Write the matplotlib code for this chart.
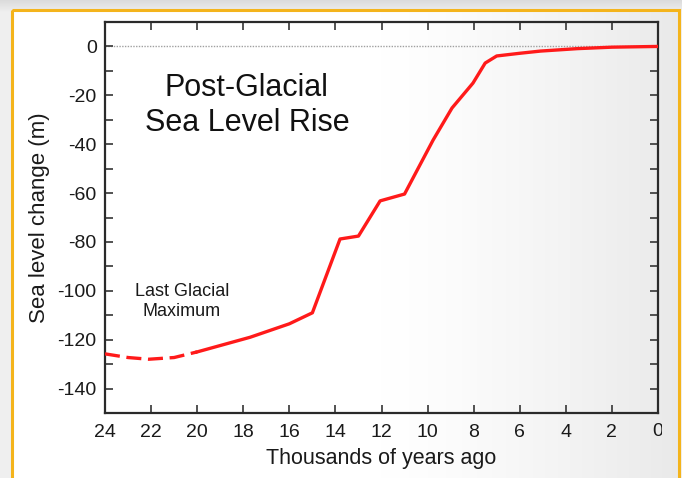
import numpy as np
import matplotlib
matplotlib.use("Agg")
import matplotlib.pyplot as plt
from matplotlib.patches import Rectangle
from matplotlib.transforms import Bbox
from matplotlib.ticker import MultipleLocator

# ---- data (thousands of years ago, sea level change in m) ----
lgm_age = [24, 23, 22.1, 21, 20]
lgm_level = [-125.8, -127.3, -128, -127.3, -125]
rise_age = [20, 17.7, 16, 15, 13.8, 13.0, 12.06, 11.0, 9.76, 8.94, 8.03, 7.5, 7.0, 6.0, 5.1, 3.5, 2, 0]
rise_level = [-125, -119, -113.5, -109, -78.8, -77.6, -63.2, -60.4, -38.3, -25.2, -15, -6.8, -3.9, -2.8, -1.9, -0.9, -0.3, 0]
x_ticks = [24, 22, 20, 18, 16, 14, 12, 10, 8, 6, 4, 2, 0]
x_tick_labels = ["24", "22", "20", "18", "16", "14", "12", "10", "8", "6", "4", "2", ""]
y_ticks = [0, -20, -40, -60, -80, -100, -120, -140]
y_tick_labels = ["0", "-20", "-40", "-60", "-80", "-100", "-120", "-140"]

W, H = 682, 478
fig = plt.figure(figsize=(W / 100, H / 100), dpi=100)
fig.patch.set_facecolor("#efefef")

# ---- background (shadow + frame gradient) ----
bg = fig.add_axes([0, 0, 1, 1], zorder=-10)
bg.set_axis_off()
xs = np.arange(W)
ys = np.arange(H)
top = np.clip(ys / 12.0, 0, 1)
img = np.empty((H, W))
img[:, :] = (0.86 + 0.08 * top)[:, None]
fx0, fx1, fy0 = 12, 679, 10
gx = np.clip((xs - 380) / (fx1 - 380), 0, 1)
grad = 1.0 - 0.085 * gx ** 1.3
inner = np.zeros((H, W), dtype=bool)
inner[fy0:, fx0:fx1] = True
img[inner] = np.broadcast_to(grad[None, :], (H, W))[inner]
bg.imshow(np.dstack([img, img, img]), extent=[0, W, H, 0], aspect="auto", interpolation="bilinear")
bg.set_xlim(0, W)
bg.set_ylim(H, 0)
bg.add_patch(Rectangle((fx0, fy0), fx1 - fx0, H, fill=False, edgecolor="#f4b41c", linewidth=2.2))

# ---- main axes ----
ax = fig.add_axes([105 / W, 1 - 413 / H, (658 - 105) / W, (413 - 22) / H])
ax.set_facecolor("none")
ax.set_xlim(24, 0)
ax.set_ylim(-150, 10)

ax.axhline(0, color="#a0a0a0", linestyle=(0, (1, 1)), linewidth=1.0, zorder=1)
ax.plot(lgm_age, lgm_level, color="#ff1a1a", linewidth=2.4, linestyle=(0, (4.5, 2)), zorder=3)
ax.plot(rise_age, rise_level, color="#ff1a1a", linewidth=2.4, zorder=3, solid_joinstyle="round")

ax.set_xticks(x_ticks, x_tick_labels)
ax.set_yticks(y_ticks, y_tick_labels)
ax.yaxis.set_minor_locator(MultipleLocator(10))
tick_font = "Liberation Sans"
for lbl in ax.get_xticklabels() + ax.get_yticklabels():
    lbl.set_fontfamily(tick_font)
    lbl.set_fontsize(14)
    lbl.set_color("#1a1a1a")
ax.tick_params(which="both", direction="in", top=True, right=True, length=6, width=1.3, color="#444444")
ax.tick_params(axis="x", pad=8)
ax.tick_params(axis="y", pad=6)
for s in ax.spines.values():
    s.set_linewidth(1.6)
    s.set_color("#2a2a2a")

# clipped "0" label at right end
t0 = ax.text(0, -0.026, "0", transform=ax.get_xaxis_transform(), ha="center", va="top",
             fontsize=14, family=tick_font, color="#1a1a1a")
t0.set_clip_box(Bbox.from_extents(0, 0, 662, H))
t0.set_clip_on(True)

ax.set_xlabel("Thousands of years ago", fontsize=15.5, family="Liberation Sans",
              color="#1a1a1a", labelpad=5)
ax.set_ylabel("Sea level change (m)", fontsize=16, family="Liberation Sans", color="#1a1a1a", labelpad=5)

ax.text(17.84, -24.2, "Post-Glacial\nSea Level Rise", ha="center", va="center", fontsize=22,
        family="Liberation Sans", color="#111111", linespacing=1.2)
ax.text(20.66, -104.4, "Last Glacial\nMaximum", ha="center", va="center", fontsize=13,
        family="Liberation Sans", color="#1a1a1a", linespacing=1.2)

fig.savefig("out.png", dpi=100)
